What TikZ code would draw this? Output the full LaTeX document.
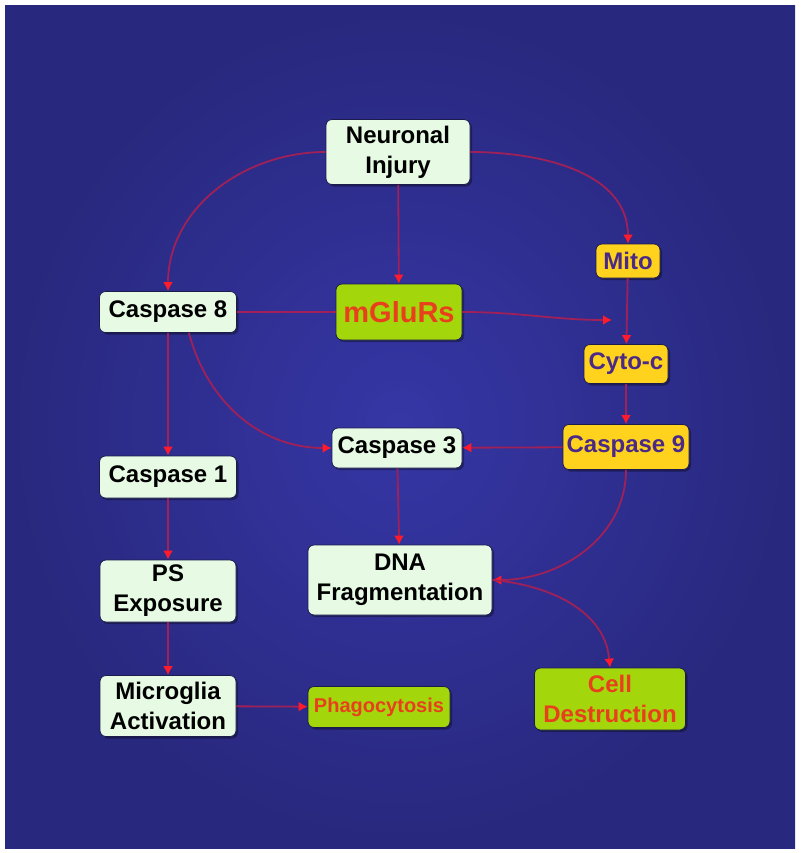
\documentclass[tikz,border=0pt]{standalone}
\usepackage{fontspec}
\setmainfont{Liberation Sans}
\usepackage{tikz}
\usetikzlibrary{arrows.meta,positioning,calc,shadows}
\definecolor{bgouter}{HTML}{28287E}
\definecolor{bginner}{HTML}{3636A6}
\definecolor{bxline}{HTML}{1C1C4C}
\definecolor{bxmint}{HTML}{E6FAE4}
\definecolor{bxgold}{HTML}{FFD21E}
\definecolor{bxlime}{HTML}{A4D60C}
\definecolor{txpurple}{HTML}{4A2A86}
\definecolor{txred}{HTML}{E8401C}
\definecolor{lnred}{HTML}{A02058}
\definecolor{tipred}{HTML}{FF1A2C}
\tikzset{
  stage/.style={draw=bxline, rounded corners=3pt, align=center, inner sep=1pt,
                font=\bfseries\fontsize{12}{15}\selectfont, line width=0.4pt,
                drop shadow={shadow xshift=1pt, shadow yshift=-1pt, fill=black, opacity=0.35}},
  mint/.style={stage, fill=bxmint, text=black},
  gold/.style={stage, fill=bxgold, text=txpurple},
  lime/.style={stage, fill=bxlime, text=txred},
  link/.style={-{Latex[length=4.5pt,width=5pt,color=tipred]}, draw=lnred, line width=0.9pt},
  bar/.style={draw=lnred, line width=0.9pt},
}

\begin{document}
\begin{tikzpicture}[x=0.5pt, y=-0.5pt]
  \fill[white] (0,0) rectangle (800,853);
  \shade[inner color=bginner, outer color=bgouter] (5,5) rectangle (795,848);
  \useasboundingbox (0,0) rectangle (800,853);

  \node[mint, minimum width=72pt, minimum height=32.5pt] (ni) at (398,152) {Neuronal\\Injury};
  \node[gold, minimum width=32pt, minimum height=17pt] (mito) at (628,261) {Mito};
  \node[mint, minimum width=68.5pt, minimum height=20.5pt] (c8) at (168,312) {Caspase 8};
  \node[lime, minimum width=63pt, minimum height=28pt, font=\bfseries\fontsize{14.5}{17}\selectfont] (mglu) at (399,312) {mGluRs};
  \node[gold, minimum width=42pt, minimum height=19.5pt] (cyto) at (626,364) {Cyto-c};
  \node[mint, minimum width=65pt, minimum height=20pt] (c3) at (397,448) {Caspase 3};
  \node[gold, minimum width=63pt, minimum height=22.5pt] (c9) at (626,447) {Caspase 9};
  \node[mint, minimum width=68.5pt, minimum height=21pt] (c1) at (168,477) {Caspase 1};
  \node[mint, minimum width=68pt, minimum height=31pt] (ps) at (168,591) {PS\\Exposure};
  \node[mint, minimum width=92pt, minimum height=35pt] (dna) at (400,580) {DNA\\Fragmentation};
  \node[mint, minimum width=68pt, minimum height=30.5pt] (mic) at (168,706) {Microglia\\Activation};
  \node[lime, minimum width=71pt, minimum height=20.5pt, font=\bfseries\fontsize{10}{12}\selectfont] (phago) at (379,707) {Phagocytosis};
  \node[lime, minimum width=75.5pt, minimum height=31pt] (cd) at (610,699) {Cell\\Destruction};

  \coordinate (mcjoin) at (612,320);

  \draw[link] (ni) -- (mglu);
  \draw[link] (ni.west) to[out=180, in=90] (c8.north);
  \draw[link] (ni.east) to[out=0, in=90] (mito.north);
  \draw[bar] (c8) -- (mglu);
  \draw[link] (mglu.east) to[out=0, in=180] (mcjoin);
  \draw[link] (mito) -- (cyto);
  \draw[link] (cyto) -- (c9);
  \draw[link] (c9) -- (c3);
  \draw[link] (c8.-45) to[out=-75, in=180] (c3.west);
  \draw[link] (c8) -- (c1);
  \draw[link] (c1) -- (ps);
  \draw[link] (ps) -- (mic);
  \draw[link] (mic) -- (phago);
  \draw[link] (c3) -- (dna);
  \draw[link] (c9.south) to[out=-90, in=0] (dna.east);
  \draw[link] (dna.east) to[out=-5, in=95] (cd.north);
\end{tikzpicture}
\end{document}
